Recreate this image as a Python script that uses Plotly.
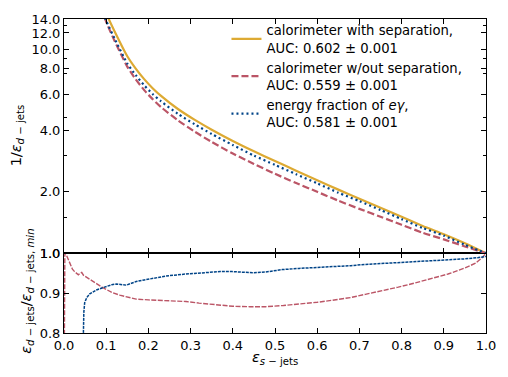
import math
import plotly.graph_objects as go

# ---------------- data ----------------
eff_s = [0.08, 0.10, 0.12, 0.15, 0.17, 0.19, 0.21, 0.23, 0.27, 0.31, 0.35, 0.40,
         0.45, 0.50, 0.55, 0.60, 0.65, 0.70, 0.75, 0.80, 0.85, 0.90, 0.95, 1.0]
inv_calo_sep = [19.3, 15.0, 12.2, 9.23, 8.03, 7.13, 6.44, 5.90, 5.09, 4.50, 4.03, 3.55,
                3.16, 2.83, 2.54, 2.28, 2.05, 1.85, 1.67, 1.51, 1.36, 1.24, 1.12, 1.0]
inv_calo_nosep = [17.76, 13.62, 10.97, 8.21, 7.11, 6.30, 5.69, 5.20, 4.48, 3.94, 3.51, 3.08,
                  2.74, 2.45, 2.21, 2.00, 1.81, 1.65, 1.51, 1.38, 1.26, 1.17, 1.08, 1.0]
inv_efrac = [17.56, 13.76, 11.25, 8.50, 7.46, 6.65, 6.03, 5.55, 4.82, 4.28, 3.84, 3.39,
             3.01, 2.71, 2.44, 2.20, 1.98, 1.80, 1.63, 1.47, 1.33, 1.22, 1.10, 1.0]

ratio_s_nosep = [0.000, 0.002, 0.006, 0.010, 0.015, 0.020, 0.025, 0.030, 0.034, 0.038,
                 0.042, 0.046, 0.054, 0.065, 0.077, 0.090, 0.101, 0.115, 0.132, 0.150,
                 0.171, 0.200, 0.226, 0.260, 0.289, 0.320, 0.344, 0.370, 0.400, 0.440,
                 0.478, 0.520, 0.557, 0.600, 0.635, 0.680, 0.714, 0.750, 0.792, 0.830,
                 0.871, 0.910, 0.950, 0.975, 0.990, 1.000]
ratio_nosep = [0.600, 1.000, 0.995, 0.984, 0.972, 0.960, 0.954, 0.950, 0.946, 0.950,
               0.952, 0.945, 0.939, 0.932, 0.924, 0.915, 0.908, 0.901, 0.895, 0.890,
               0.885, 0.883, 0.882, 0.880, 0.879, 0.875, 0.873, 0.870, 0.867, 0.866,
               0.866, 0.869, 0.872, 0.877, 0.882, 0.889, 0.897, 0.905, 0.915, 0.925,
               0.936, 0.948, 0.963, 0.975, 0.988, 1.000]

ratio_s_efrac = [0.044, 0.046, 0.047, 0.049, 0.054, 0.061, 0.070, 0.077, 0.090, 0.101,
                 0.113, 0.124, 0.135, 0.148, 0.160, 0.171, 0.190, 0.211, 0.242, 0.289,
                 0.320, 0.344, 0.370, 0.399, 0.430, 0.450, 0.478, 0.500, 0.517, 0.557,
                 0.600, 0.635, 0.680, 0.714, 0.750, 0.792, 0.830, 0.871, 0.910, 0.950,
                 0.980, 1.000]
ratio_efrac = [0.700, 0.815, 0.852, 0.876, 0.889, 0.898, 0.903, 0.908, 0.913, 0.917,
               0.921, 0.923, 0.922, 0.920, 0.925, 0.929, 0.933, 0.937, 0.943, 0.948,
               0.950, 0.953, 0.954, 0.954, 0.952, 0.951, 0.953, 0.956, 0.959, 0.962,
               0.964, 0.966, 0.969, 0.972, 0.974, 0.976, 0.978, 0.980, 0.983, 0.986,
               0.989, 0.992]

legend_names = [
    "calorimeter with separation,<br>AUC: 0.602 ± 0.001",
    "calorimeter w/out separation,<br>AUC: 0.559 ± 0.001",
    "energy fraction of <i>eγ</i>,<br>AUC: 0.581 ± 0.001",
]
top_ticks = [1, 2, 4, 6, 8, 10, 12, 14]
top_ticktext = ["1.0", "2.0", "4.0", "6.0", "8.0", "10.0", "12.0", "14.0"]
top_minor = [1.5, 3, 4.6, 7.6, 9, 13]
x_ticks = [0.0, 0.1, 0.2, 0.3, 0.4, 0.5, 0.6, 0.7, 0.8, 0.9, 1.0]
bot_ticks = [0.8, 0.9, 1.0]

# ---------------- styling ----------------
YELLOW = "#DDAA33"
RED = "#BB5566"
BLUE = "#004488"
FONT = "DejaVu Sans"

fig = go.Figure()

fig.add_trace(go.Scatter(x=eff_s, y=inv_calo_sep, mode="lines", name=legend_names[0],
                         line=dict(color=YELLOW, width=2.2, shape="spline", smoothing=0.6),
                         xaxis="x2", yaxis="y2"))
fig.add_trace(go.Scatter(x=eff_s, y=inv_calo_nosep, mode="lines", name=legend_names[1],
                         line=dict(color=RED, width=2.2, dash="7px,3px", shape="spline", smoothing=0.6),
                         xaxis="x2", yaxis="y2"))
fig.add_trace(go.Scatter(x=eff_s, y=inv_efrac, mode="lines", name=legend_names[2],
                         line=dict(color=BLUE, width=2.2, dash="2px,3px", shape="spline", smoothing=0.6),
                         xaxis="x2", yaxis="y2"))

fig.add_trace(go.Scatter(x=ratio_s_nosep, y=ratio_nosep, mode="lines", showlegend=False,
                         line=dict(color=RED, width=1.4, dash="5px,1.5px"), xaxis="x", yaxis="y"))
fig.add_trace(go.Scatter(x=ratio_s_efrac, y=ratio_efrac, mode="lines", showlegend=False,
                         line=dict(color=BLUE, width=1.5, dash="3px,1px"), xaxis="x", yaxis="y"))

axis_common = dict(showline=True, linecolor="black", linewidth=1, mirror="ticks",
                   ticks="inside", ticklen=5, tickcolor="black", tickwidth=1,
                   showgrid=False, zeroline=False,
                   tickfont=dict(family=FONT, size=13, color="black"))

split = 81.0 / 319.0

fig.update_layout(
    width=508, height=377,
    margin=dict(l=64, r=20, t=14, b=44),
    paper_bgcolor="white", plot_bgcolor="white",
    font=dict(family=FONT, size=13, color="black"),
    xaxis=dict(domain=[0, 1], anchor="y", range=[0, 1], tickvals=x_ticks,
               ticktext=[f"{v:.1f}" for v in x_ticks], **axis_common),
    yaxis=dict(domain=[0, split], anchor="x", range=[0.8, 1.0], tickvals=bot_ticks,
               ticktext=[f"{v:.1f}" for v in bot_ticks], **axis_common),
    xaxis2=dict(domain=[0, 1], anchor="y2", range=[0, 1], matches="x", tickvals=x_ticks,
                showticklabels=False, **axis_common),
    yaxis2=dict(domain=[split, 1], anchor="x2", type="log", range=[0, math.log10(14.05)],
                tickvals=top_ticks, ticktext=top_ticktext,
                minor=dict(tickvals=top_minor, ticks="inside", ticklen=3, tickcolor="black"),
                **axis_common),
    legend=dict(x=0.385, y=1.012, xanchor="left", yanchor="top", bgcolor="rgba(0,0,0,0)",
                font=dict(family=FONT, size=13.2, color="black"), itemwidth=30,
                traceorder="normal", tracegroupgap=0),
    showlegend=True,
)

fig.add_annotation(text="1/<i>ε</i><sub><i>d</i> − jets</sub>", textangle=-90,
                   xref="paper", yref="paper", x=(17 - 64) / 424, y=(333 - 132) / 319,
                   xanchor="center", yanchor="middle",
                   showarrow=False, font=dict(family=FONT, size=14.5, color="black"))
fig.add_annotation(text="<i>ε</i><sub><i>d</i> − jets</sub>/<i>ε</i><sub><i>d</i> − jets, <i>min</i></sub>",
                   textangle=-90, xref="paper", yref="paper",
                   x=(26 - 64) / 424, y=(333 - 291) / 319,
                   xanchor="center", yanchor="middle",
                   showarrow=False, font=dict(family=FONT, size=14.5, color="black"))
fig.add_annotation(text="<i>ε</i><sub><i>s</i> − jets</sub>", xref="paper", yref="paper",
                   x=0.5, y=(333 - 358) / 319, xanchor="center", yanchor="middle",
                   showarrow=False, font=dict(family=FONT, size=14.5, color="black"))

fig.write_html("out.html", post_script="document.body.style.margin='0';",
               config={"displayModeBar": False})
